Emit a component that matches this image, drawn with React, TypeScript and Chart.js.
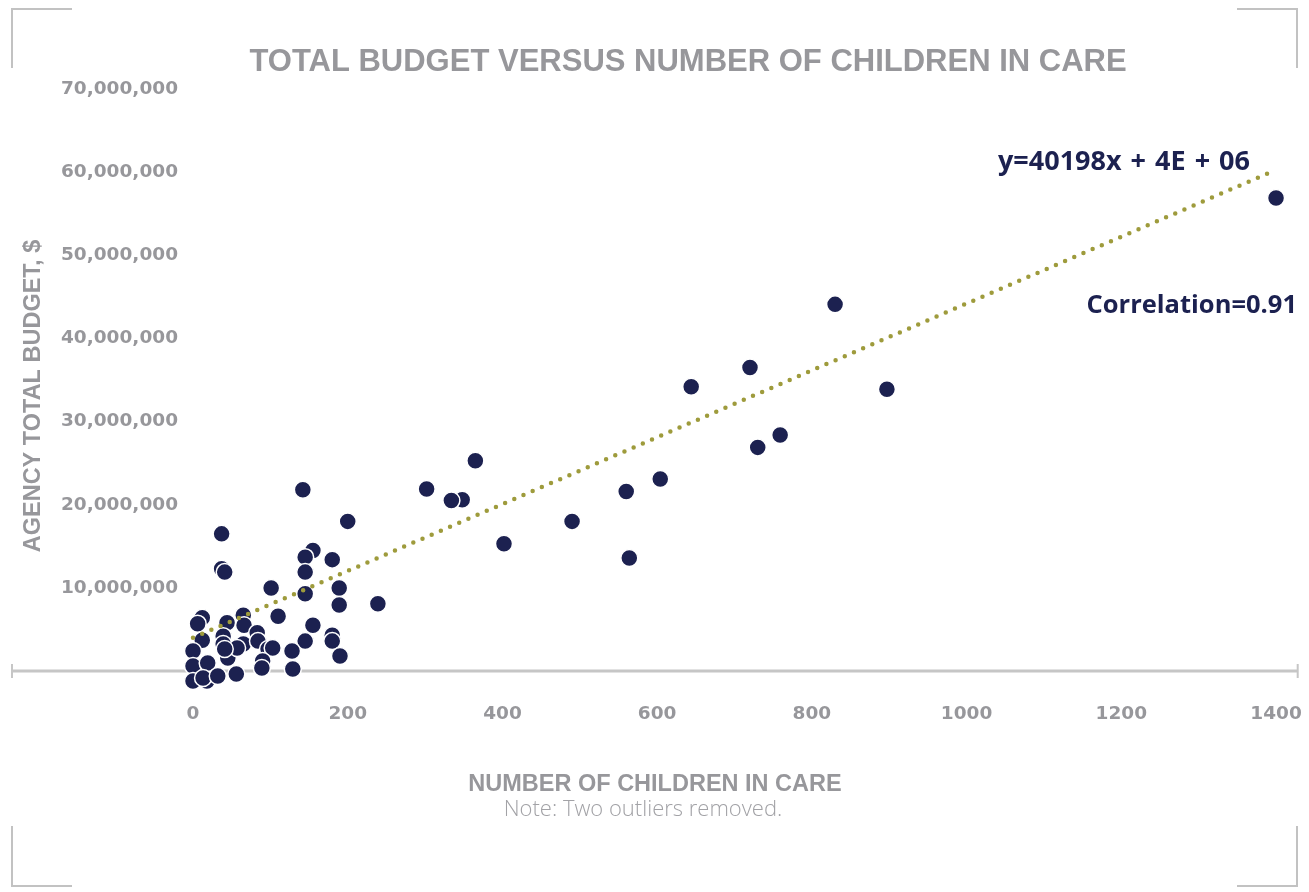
import { useEffect, useRef } from "react";
import { Chart, registerables } from "chart.js";

Chart.register(...registerables);

// ---- data ----
const CHILDREN_IN_CARE = [
  1400, 830, 897, 720, 644, 759, 730, 604, 560, 564, 490, 402, 365, 348, 334, 302, 239, 200, 142,
  37, 37, 41, 155, 145, 180, 145, 101, 145, 189, 189, 110, 12, 6, 44, 65, 66, 155, 12, 39, 39,
  65, 83, 0, 45, 57, 84, 97, 103, 145, 128, 180, 180, 190, 90, 89, 129, 0, 19, 0, 18, 13, 32, 56, 41,
];
const TOTAL_BUDGET = [
  56900000, 44100000, 33900000, 36500000, 34200000, 28400000, 26900000, 23100000, 21600000,
  13600000, 18000000, 15300000, 25300000, 20600000, 20500000, 21900000, 8100000, 18000000, 21800000,
  16500000, 12300000, 11900000, 14500000, 13700000, 13400000, 11900000, 10000000, 9300000, 10000000,
  7950000, 6600000, 6400000, 5700000, 5800000, 6700000, 5500000, 5500000, 3700000, 4200000, 3250000,
  3250000, 4600000, 2400000, 1570000, 2770000, 3600000, 2650000, 2770000, 3600000, 2400000, 4300000,
  3600000, 1800000, 1200000, 360000, 240000, 600000, 960000, -1200000, -1200000, -840000, -600000,
  -360000, 2650000,
];
const Y_TICKS = [10000000, 20000000, 30000000, 40000000, 50000000, 60000000, 70000000];
const X_TICKS = [0, 200, 400, 600, 800, 1000, 1200, 1400];
const TREND_SLOPE = 40198;
const TREND_INTERCEPT = 4000000;
const TREND_X = [0, 1400];

const TITLE = "TOTAL BUDGET VERSUS NUMBER OF CHILDREN IN CARE";
const X_TITLE = "NUMBER OF CHILDREN IN CARE";
const Y_TITLE = "AGENCY TOTAL BUDGET, $";
const NOTE = "Note: Two outliers removed.";
const EQUATION = "y=40198x + 4E + 06";
const CORRELATION = "Correlation=0.91";

const GRAY = "#97979b";
const NAVY = "#1c2150";

const decorPlugin = {
  id: "decor",
  beforeDatasetsDraw(chart: any) {
    const ctx = chart.ctx;
    const y = chart.scales.y.getPixelForValue(0);
    const right = chart.chartArea.right;
    ctx.save();
    ctx.strokeStyle = "#c6c6c6";
    ctx.lineWidth = 3;
    ctx.beginPath();
    ctx.moveTo(12, y);
    ctx.lineTo(right, y);
    ctx.stroke();
    ctx.lineWidth = 2;
    ctx.beginPath();
    ctx.moveTo(12, y - 7);
    ctx.lineTo(12, y + 7);
    ctx.moveTo(right, y - 7);
    ctx.lineTo(right, y + 7);
    ctx.stroke();
    ctx.restore();
  },
  afterDraw(chart: any) {
    const ctx = chart.ctx;
    ctx.save();
    // corner brackets
    ctx.strokeStyle = "#c2c2c2";
    ctx.lineWidth = 2;
    ctx.beginPath();
    ctx.moveTo(12, 68); ctx.lineTo(12, 9); ctx.lineTo(72, 9);
    ctx.moveTo(1237, 9); ctx.lineTo(1297, 9); ctx.lineTo(1297, 68);
    ctx.moveTo(12, 826); ctx.lineTo(12, 886); ctx.lineTo(72, 886);
    ctx.moveTo(1237, 886); ctx.lineTo(1297, 886); ctx.lineTo(1297, 826);
    ctx.stroke();

    ctx.textBaseline = "middle";
    // main title
    ctx.fillStyle = GRAY;
    ctx.textAlign = "center";
    ctx.font = "bold 31px 'Liberation Sans', Arial, sans-serif";
    ctx.fillText(TITLE, 688, 62);
    // x axis title
    ctx.font = "bold 23.5px 'Liberation Sans', Arial, sans-serif";
    ctx.fillText(X_TITLE, 655, 785);
    // note
    ctx.fillStyle = "#a2a2a6";
    ctx.font = "300 22px 'Open Sans', sans-serif";
    ctx.fillText(NOTE, 643, 810);
    // y axis title
    ctx.save();
    ctx.translate(34, 396);
    ctx.rotate(-Math.PI / 2);
    ctx.fillStyle = GRAY;
    ctx.font = "bold 23.5px 'Liberation Sans', Arial, sans-serif";
    ctx.fillText(Y_TITLE, 0, 0);
    ctx.restore();
    // annotations
    ctx.fillStyle = NAVY;
    ctx.textAlign = "left";
    ctx.font = "bold 27px 'Open Sans', sans-serif";
    (ctx as any).wordSpacing = "2px";
    ctx.fillText(EQUATION, 998, 162);
    (ctx as any).wordSpacing = "0px";
    ctx.textAlign = "right";
    ctx.font = "bold 25.5px 'Open Sans', sans-serif";
    ctx.fillText(CORRELATION, 1297, 306);
    ctx.restore();
  },
};

export default function App() {
  const canvasRef = useRef<HTMLCanvasElement | null>(null);

  useEffect(() => {
    if (!canvasRef.current) return;
    const points = CHILDREN_IN_CARE.map((x, i) => ({ x, y: TOTAL_BUDGET[i] }));
    const trend = TREND_X.map((x) => ({ x, y: TREND_SLOPE * x + TREND_INTERCEPT }));
    const tickFont = { family: "'DejaVu Sans', sans-serif", size: 18.5, weight: "bold" as const };

    const chart = new Chart(canvasRef.current, {
      type: "scatter",
      data: {
        datasets: [
          {
            type: "line",
            data: trend,
            borderColor: "#9e9b3c",
            borderWidth: 4.5,
            borderDash: [0, 10],
            borderCapStyle: "round",
            pointRadius: 0,
            fill: false,
            clip: false,
          } as any,
          {
            data: points,
            backgroundColor: NAVY,
            borderColor: "#ffffff",
            borderWidth: 1.5,
            pointRadius: 8.5,
            clip: false,
          } as any,
        ],
      },
      options: {
        animation: false,
        responsive: false,
        devicePixelRatio: 1,
        layout: { padding: { top: 89, right: 11, bottom: 167, left: 0 } },
        plugins: {
          legend: { display: false },
          tooltip: { enabled: false },
          title: { display: false },
        },
        scales: {
          x: {
            type: "linear",
            min: 0,
            max: 1428,
            grid: { display: false, drawTicks: false },
            border: { display: false },
            ticks: {
              padding: 7,
              color: GRAY,
              font: tickFont,
              callback: (v: any) => String(v),
            },
            afterBuildTicks: (scale: any) => {
              scale.ticks = X_TICKS.map((value) => ({ value }));
            },
            afterFit: (scale: any) => {
              scale.height = 29;
            },
          },
          y: {
            type: "linear",
            min: -3000000,
            max: 70000000,
            grid: { display: false, drawTicks: false },
            border: { display: false },
            ticks: {
              padding: 15,
              color: GRAY,
              font: tickFont,
              callback: (v: any) => Number(v).toLocaleString("en-US"),
            },
            afterBuildTicks: (scale: any) => {
              scale.ticks = Y_TICKS.map((value) => ({ value }));
            },
            afterFit: (scale: any) => {
              scale.width = 193;
            },
          },
        },
      },
      plugins: [decorPlugin],
    });
    return () => chart.destroy();
  }, []);

  return (
    <div style={{ position: "fixed", left: 0, top: 0, width: 1309, height: 892, background: "#fff" }}>
      <canvas ref={canvasRef} width={1309} height={892} style={{ display: "block" }} />
    </div>
  );
}
